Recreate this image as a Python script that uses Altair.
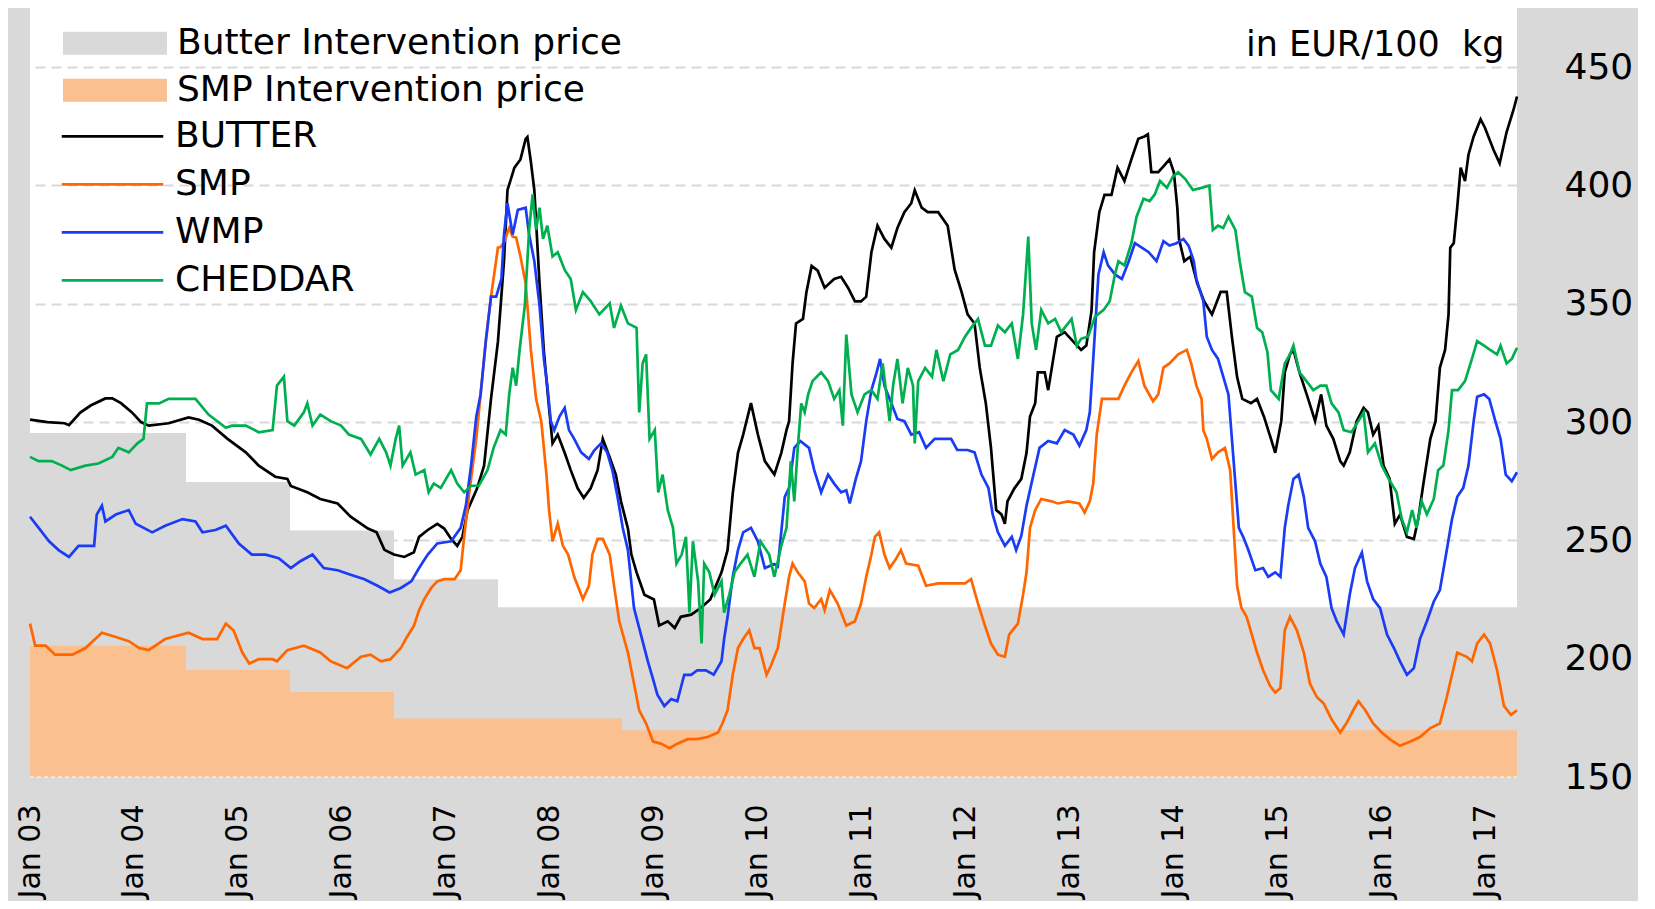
import altair as alt
import pandas as pd

FONT = "DejaVu Sans"

# (months since Jan 2003, EUR/100 kg)
butter = [(0,301),(2,300),(4,299.5),(4.5,298.7),(5.8,304),(7,307),(8.7,310),(9.5,310),(10.5,308),(11.8,304),(12.8,300),(13.7,298.5),(16,299.5),(18.3,302),(19.5,301),(21,298.5),(22.8,292.9),(24.9,287.2),(26.4,281.6),(28.3,276.9),(29.7,276),(30.1,273),(32,270.3),(33.5,267.5),(35.5,265.6),(37,260),(39,255),(40,253.4),(40.9,246),(42,244),(43.2,243),(44.3,245),(44.9,251.5),(45.9,254.4),(47,257),(47.8,255),(48.6,250.6),(49.3,247.7),(49.9,251.5),(50.5,262.8),(51.6,272),(52.4,281.6),(53.2,309.8),(54,334),(54.7,368),(55.1,398),(55.9,407.5),(56.6,411),(57.2,419.7),(57.4,420.5),(57.8,410),(58.2,398),(58.8,358.6),(59.3,330),(59.9,306),(60.3,291),(60.9,294.7),(61.7,287),(62.4,279.7),(63.2,272),(63.9,268),(64.7,272),(65.5,279.7),(66.1,292.9),(66.9,285),(67.6,277.8),(68.2,266.5),(69,255),(69.4,244),(70,236.5),(70.9,227),(72,225),(72.6,214),(73.6,215.8),(74.4,213),(75.1,217.7),(76.3,218.6),(77.4,221.4),(78.5,225),(79.8,236.5),(80.5,245.9),(81.1,270),(81.7,287),(82.3,294.7),(83.2,308),(84,294.7),(84.8,283.5),(85.9,277.8),(86.7,287),(87.3,296.6),(87.6,300.4),(88,324.8),(88.4,341.7),(89.2,343.6),(89.6,354.9),(90.2,366),(90.9,364),(91.7,356.8),(92.8,360.5),(93.6,361.4),(94.4,356.8),(95.2,351),(95.9,351),(96.5,353),(97.1,371.8),(97.8,383),(98.6,377.4),(99.4,373.7),(100.1,382),(100.9,388.7),(101.7,392.5),(102.1,398),(102.9,390.6),(103.6,388.7),(104.8,388.7),(105.9,383),(106.7,364.5),(107.5,355),(108.2,345.5),(109,341.7),(109.6,323),(110.3,308),(110.9,289),(111.5,262.8),(112.1,261),(112.5,257),(112.8,266.5),(113.6,272),(114.4,276),(115,287),(115.4,302.3),(116,308),(116.3,321),(117.1,321),(117.5,313.5),(118,324.8),(118.5,336),(119.4,338),(120.4,334),(121.3,330.5),(121.9,332.3),(122.5,347),(122.8,371.8),(123.4,388.7),(124,396),(124.8,396),(125.5,407.5),(126.3,401.9),(127.1,411),(127.9,419.7),(128.6,420.7),(129,421.6),(129.4,405.6),(130.2,405.6),(130.9,408.5),(131.5,411),(132,405.6),(132.4,390.6),(132.6,377.4),(133.2,368),(133.9,369.9),(134.7,358.6),(135.5,351),(136.4,345.5),(137.4,355),(138.1,355),(138.7,336),(139.3,319),(139.9,309.8),(140.9,308),(141.6,309.8),(142.4,302.3),(143.2,293),(143.7,287),(144.4,300.4),(144.8,321),(145.4,328.6),(145.8,330.5),(146.5,321),(147.5,309.8),(148.3,300.4),(149,311.7),(149.6,298.5),(150.4,292.9),(151.2,283.5),(151.6,281.6),(152.3,287.2),(153.1,300.4),(153.9,306),(154.4,304.1),(155,294.7),(155.6,298.5),(156.2,281.6),(156.9,276),(157.5,257),(158.1,260.9),(158.9,251.5),(159.7,250.6),(160.2,259),(160.8,274),(161.6,292.9),(162.2,300.4),(162.7,323),(163.3,330.5),(163.7,345.5),(163.9,373.7),(164.3,375.6),(164.7,390.6),(165.1,407.5),(165.6,401.9),(166,413),(166.6,420.7),(167.4,428),(167.9,424.4),(168.9,415),(169.6,409.4),(170.4,422.6),(171.2,432),(171.6,437.6)]

smp = [(0,214.8),(0.6,205.5),(1.8,205.5),(2.9,201.7),(4.9,201.7),(6.4,204.5),(8.3,211),(9.9,209.2),(11.4,207.4),(12.6,204.5),(13.7,203.6),(15.6,208.3),(18.3,211),(19.9,208.3),(21.6,208.3),(22.6,214.8),(23.5,211.9),(24.5,202.6),(25.3,198),(26.4,199.8),(28,199.8),(28.5,198.9),(29.7,203.6),(31.6,205.5),(33.5,202.6),(34.7,198.9),(36.6,196),(38.2,200.8),(39.3,201.7),(40.5,198.9),(41.6,199.8),(42.8,204.5),(43.5,209.2),(44.3,213.9),(44.9,220.5),(45.5,225.2),(46.3,229.9),(47,232.7),(47.8,233.6),(49,233.6),(49.7,237.4),(50.1,251.5),(50.7,270.3),(51.5,292.9),(52,311.7),(52.6,334.2),(53.2,353),(54,373.7),(54.3,374),(54.7,376),(55.3,382),(55.7,378.4),(56.1,378),(56.6,370),(57.2,358.6),(57.8,330.5),(58.4,309.8),(59,300.4),(59.6,277.8),(59.9,262.8),(60.3,249.6),(60.9,257.1),(61.5,247.7),(62.1,244),(62.8,234.6),(63.8,225.2),(64.5,230.8),(64.9,244),(65.5,250.6),(66.1,250.6),(66.9,244),(67.4,230.8),(68,215.8),(69,202.6),(69.7,189.5),(70.3,178.2),(71.1,172.6),(71.9,165),(72.8,164.1),(73.8,162.2),(74.7,164.1),(75.9,166),(77,166),(78.2,166.9),(79.4,168.8),(79.9,172.6),(80.5,178.2),(81.1,193.2),(81.7,204.5),(82.3,208.3),(83,212),(83.6,204.5),(84.2,204.5),(85,193.2),(85.5,197),(86.3,204.5),(87.1,223.3),(87.6,234.6),(88,240.2),(88.6,236.5),(89.4,232.7),(89.9,223.3),(90.5,221.4),(91.3,225.2),(91.7,220.5),(92.3,229),(93.2,223.3),(94.2,214),(95.2,215.8),(95.9,223.3),(96.5,234.6),(97.1,244),(97.5,251.5),(98,253.4),(98.6,244),(99.2,238.3),(99.9,242),(100.5,245.9),(101.1,240.2),(102.5,239.3),(103.4,230.8),(104.8,231.8),(106.3,231.8),(107.9,231.8),(108.6,233.6),(109.4,223.3),(110.2,214),(110.9,206.4),(111.7,201.7),(112.5,200.8),(113,210.2),(114,214.8),(114.6,227),(115,236.5),(115.4,255.3),(116,262.8),(116.7,267.5),(117.9,266.5),(118.6,265.6),(119.8,266.5),(121.1,265.6),(121.7,261.8),(122.3,266.5),(122.7,274),(123.1,294.7),(123.7,309.8),(124.4,309.8),(125.6,309.8),(126.3,315.4),(127.1,321),(127.9,325.8),(128.6,315.4),(129.6,308.8),(130.2,311.7),(130.8,323),(131.5,324.8),(132.5,328.6),(133.5,330.5),(134,324.8),(134.6,315.4),(135.2,309.8),(135.4,296.6),(135.8,292.9),(136.4,284.4),(137.1,287.2),(137.9,289.1),(138.5,279.7),(138.9,255.3),(139.3,230.8),(139.8,221.4),(140.4,217.7),(141,210.2),(141.6,202.6),(142.3,195.1),(143.1,188.5),(143.7,185.7),(144.3,187.6),(144.8,212),(145.4,217.7),(146.2,212),(147,202.6),(147.7,189.5),(148.5,183.8),(149.3,181),(150.2,174.4),(151.2,168.8),(151.9,172.6),(152.7,178.2),(153.3,182),(154.1,178.2),(155,172.6),(156,168.8),(156.9,166),(158.1,163.2),(159.3,165),(160.4,166.9),(161.6,170.7),(162.7,172.6),(163.5,183.8),(164.1,193.2),(164.7,202.6),(165.8,200.8),(166.4,198.9),(167,206.4),(167.8,210.2),(168.5,206.4),(169.3,195.1),(170.1,180),(170.9,176.3),(171.6,178.2)]

wmp = [(0,260),(1,255.3),(2.2,249.6),(3.3,245.9),(4.5,243),(5.6,247.7),(7.4,247.7),(7.7,260.9),(8.3,264.7),(8.7,258),(9.9,260.9),(11.4,262.8),(12.2,257),(14.1,253.4),(15.6,256.2),(17.6,259),(19.1,258),(19.9,253.4),(21.4,254.4),(22.6,256.2),(24.1,248.7),(25.6,244),(27.2,244),(28.7,242.5),(30.1,238.3),(31.2,241.2),(32.6,244),(33.9,238.3),(35.5,237.4),(37,235.5),(38.6,233.6),(40.1,230.8),(41.5,228),(42.8,229.9),(44,232.7),(44.9,238.3),(45.9,244),(47,248.7),(48.6,249.6),(49.7,255.3),(50.3,264.7),(50.9,281.6),(51.5,302.3),(52,311.7),(52.6,334.2),(53.2,353),(53.8,353),(54.4,360.5),(54.7,379.3),(55.1,392.5),(55.7,379.3),(56.3,389.7),(57.2,390.6),(57.6,379.3),(58.2,368),(58.8,349.2),(59.3,326.7),(59.7,315.4),(60.1,300.4),(60.5,296.6),(61.1,302.3),(61.7,306),(62.2,296.6),(62.8,292.9),(63.6,287.2),(64.5,284.4),(65.1,288),(65.9,291),(66.6,287.2),(67.2,279.7),(67.8,268.4),(68.4,255.3),(69,245.9),(69.7,221.4),(70.5,210.2),(71.3,198.9),(71.9,191.4),(72.4,184.8),(73.2,180),(74,182.9),(74.7,182),(75.5,193.2),(76.3,193.2),(77,195.1),(78,195.1),(78.9,193.2),(79.8,198.9),(80.1,208.3),(80.5,217.7),(81.1,234.6),(81.7,245.9),(82.3,253.4),(83.2,255.3),(84,249.6),(84.8,238.3),(85.9,240),(86.3,239),(87.1,268.4),(87.6,272.2),(88.2,289.1),(88.9,292),(89.9,289.1),(90.5,279.7),(91.3,270.3),(92.1,277.8),(92.8,274),(93.6,270.3),(94.2,271.2),(94.6,265.6),(95.3,276),(95.9,283.5),(96.5,300.4),(97.1,313.5),(97.7,321),(98.1,326.7),(98.6,315.4),(99.4,308),(100.1,301.3),(100.9,300.4),(101.7,294.7),(102.6,295.7),(103.4,289.1),(104.4,292.9),(105.5,292.9),(106.3,292.9),(107,288.2),(108.2,288.2),(109,287.2),(109.8,277.8),(110.6,272.2),(111.1,260.9),(111.7,253.4),(112.5,247.7),(113.3,251.5),(113.8,245.9),(114.4,252),(115,264.7),(115.8,277.8),(116.5,289.1),(117.5,292),(118.5,291),(119.4,296.6),(120.4,294.7),(121.1,290),(121.9,296.6),(122.3,304.1),(122.7,326.7),(123.3,362.4),(123.9,371.8),(124.4,366.2),(125.2,362.4),(126,360.5),(126.8,368),(127.5,375.6),(128.3,373.7),(129.1,371.8),(130,368),(130.8,376.5),(131.5,374.6),(132.3,375.6),(133.1,377.4),(133.7,374.6),(134.3,368),(134.6,360.5),(135.4,351.1),(135.8,336.1),(136.4,330.5),(137.1,326.7),(137.7,319.2),(138.3,311.7),(138.9,283.5),(139.5,255.3),(140,251.5),(140.6,245.9),(141.4,237.4),(142.3,238.3),(142.9,234.6),(143.7,236.5),(144.3,234.6),(144.8,255.3),(145.2,264.7),(145.8,276),(146.4,277.8),(147,268.4),(147.5,255.3),(148.3,249.6),(148.9,240.2),(149.6,234.6),(150.2,221.4),(150.8,215.8),(151.6,210.2),(152.3,227.1),(152.9,238.3),(153.7,244.9),(154.3,232.7),(155,225.2),(155.8,221.4),(156.6,210.2),(157.4,204.5),(158.1,198.9),(158.9,193.2),(159.7,196),(160.4,208.3),(161.2,215.8),(162,224.2),(162.7,229),(163.5,245.9),(164.1,259),(164.7,268.4),(165.4,272.2),(166,281.6),(166.6,300.4),(167,310.7),(167.8,311.7),(168.4,309.8),(169.1,300.4),(169.7,292.9),(170.3,277.8),(171,275),(171.6,278.8)]

cheddar = [(0,285.3),(1,283.5),(2.5,283.5),(3.7,281.6),(4.7,279.7),(6.4,281.6),(7.9,282.5),(9.5,285.3),(10.2,289.1),(11.4,287.2),(12.4,291),(13.1,292.9),(13.5,307.9),(14.9,307.9),(16,309.8),(17.6,309.8),(19.1,309.8),(20.6,303.2),(22.6,297.6),(23.3,298.5),(24.9,298.5),(26.4,295.7),(28,296.6),(28.5,315.4),(29.3,319.2),(29.7,300.4),(30.5,298.5),(31.6,304.1),(32,307.9),(32.6,298.5),(33.5,303.2),(34.7,300.4),(35.9,298.5),(36.8,294.7),(38.2,292.9),(39.3,286.3),(40.3,292.9),(41.1,287.2),(41.6,281.6),(42.2,292.9),(42.6,298.5),(43,281.6),(43.9,287.2),(44.5,277.8),(45.5,279.7),(46,270.3),(46.6,274),(47.4,272.2),(48.6,279.7),(49.3,274),(50.1,270.3),(50.9,273.1),(51.8,273.1),(52.8,279.7),(53.5,289.1),(54.3,296.6),(54.9,294.7),(55.3,311.7),(55.7,323),(56.1,315.4),(56.5,330.5),(57.1,349.2),(57.6,381.2),(58,396.2),(58.4,381.2),(58.8,390.6),(59.2,377.4),(59.7,383),(60.3,370),(60.9,371.8),(61.7,364.3),(62.4,360.5),(63,347.4),(63.8,354.9),(64.7,351.1),(65.7,345.5),(66.9,350.2),(67.4,339.8),(68.2,349.2),(69,341.7),(70,339.8),(70.3,304.1),(70.7,324.8),(71.1,328.6),(71.5,292.9),(72.1,296.6),(72.5,270.3),(73,277.8),(73.6,262.8),(74.2,255.3),(74.6,240.2),(75.2,244),(75.7,251.5),(76.1,219.5),(76.5,249.6),(77.1,232.7),(77.5,206.4),(77.8,240.2),(78.4,236.5),(79,227.1),(79.8,232.7),(80.1,219.5),(80.7,227.1),(81.3,236.5),(82,240.2),(82.8,244),(83.6,234.6),(84.3,249.6),(85.3,244),(85.9,234.6),(86.7,247.7),(87.3,255.3),(87.8,283.5),(88.2,266.5),(88.6,289.1),(89,307.9),(89.4,304.1),(89.8,311.7),(90.3,317.3),(91.3,321),(92.1,317.3),(92.8,309.8),(93.4,313.5),(93.8,298.5),(94.2,337),(94.8,311.7),(95.5,304.1),(96.3,311.7),(97.1,313.5),(97.8,309.8),(98.4,324.8),(99.2,300.4),(99.6,315.4),(100.1,326.7),(100.7,307.9),(101.3,322.9),(101.9,315.4),(102.1,291),(102.5,317.3),(103.3,322.9),(104.1,319.2),(104.6,330.5),(105.4,317.3),(106.2,328.6),(107.1,330.5),(107.9,336.1),(108.6,339.8),(109.4,343.6),(110.2,332.3),(110.9,332.3),(111.7,340.8),(112.5,338),(113.3,341.7),(114,326.7),(114.6,345.5),(115.2,378.4),(115.6,341.7),(116.1,330.5),(116.7,347.4),(117.5,341.7),(118.3,343.6),(119,338),(119.8,341.7),(120.2,343.6),(120.8,332.3),(121.3,335.2),(122.1,336.1),(122.9,344.5),(123.9,347.4),(124.6,351.1),(125.2,362.4),(125.6,368),(126.3,366.2),(127.1,375.6),(127.7,386.8),(128.5,394.4),(129.2,393.4),(129.8,396.2),(130.4,401.9),(131.2,399),(131.9,403.8),(132.5,405.6),(133.3,402.8),(134.2,398.1),(135.2,399),(136.1,400),(136.5,381.2),(137.1,383),(137.7,382),(138.3,386.8),(139.1,381.2),(139.6,368),(140.2,354.9),(141,353),(141.6,339.8),(142.2,338),(142.8,329.5),(143.2,313.5),(144.1,309.8),(144.8,324.8),(145.4,328.6),(145.8,332.3),(146.5,321),(147.3,317.3),(148.1,313.5),(148.9,315.4),(149.6,315.4),(150.2,307.9),(151,304.1),(151.6,296.6),(152.5,295.7),(153.3,300.4),(153.9,304.1),(154.4,287.2),(155.2,291),(156,281.6),(156.8,276),(157.7,270.3),(158.3,259),(158.9,253.4),(159.5,262.8),(160,255.3),(160.6,266.5),(161.2,261),(162,267.5),(162.5,279.7),(163.1,281.6),(163.7,296.6),(164.1,313.5),(164.8,313.5),(165.6,317.3),(166.4,326.7),(167,334.2),(167.8,332.3),(168.5,330.5),(169.3,328.6),(169.7,332.3),(170.4,324.8),(171,326.7),(171.6,331.4)]

# intervention prices (step changes), months since Jan 2003
END_M = 171.6
butter_int = [(0,295.38),(18,274.71),(30,254.2),(42,233.57),(54,221.75),(END_M,221.75)]
smp_int = [(0,205.52),(18,195.24),(30,185.88),(42,174.69),(68.3,169.8),(END_M,169.8)]

line_names = ["BUTTER", "SMP", "WMP", "CHEDDAR"]
line_colors = ["#000000", "#ff6600", "#1a3cf5", "#00b050"]
area_names = ["Butter Intervention price", "SMP Intervention price"]
area_colors = ["#d9d9d9", "#fac090"]
year_ticks = list(range(2003, 2018))
y_ticks = [150, 200, 250, 300, 350, 400, 450]
unit_text = "in EUR/100\u00a0 kg"


def frame(pairs, name):
    return pd.DataFrame({"year": [2003 + m / 12 for m, _ in pairs],
                         "value": [v for _, v in pairs],
                         "series": name})


lines_df = pd.concat([frame(butter, "BUTTER"), frame(smp, "SMP"),
                      frame(wmp, "WMP"), frame(cheddar, "CHEDDAR")], ignore_index=True)
areas_df = pd.concat([frame(butter_int, area_names[0]), frame(smp_int, area_names[1])],
                     ignore_index=True)
border_df = pd.DataFrame({"year": [2003], "year2": [2003 + END_M / 12], "value": [150]})

X = alt.X("year:Q",
          scale=alt.Scale(domain=[2003, 2003 + END_M / 12], nice=False, zero=False),
          axis=alt.Axis(values=year_ticks, grid=False, domain=False, ticks=False,
                        labelExpr="'Jan ' + substring(toString(datum.value), 2, 4)",
                        labelAngle=270, labelAlign="right", labelBaseline="middle",
                        labelPadding=27, labelFont=FONT, labelFontSize=30,
                        labelColor="black", title=None, labelOverlap=False))
Y = alt.Y("value:Q", stack=None,
          scale=alt.Scale(domain=[150, 475], nice=False, zero=False),
          axis=alt.Axis(orient="right", values=y_ticks, grid=True, gridColor="#d9d9d9",
                        gridDash=[10, 6], gridWidth=2, domain=False, ticks=False,
                        labelPadding=47, labelFont=FONT, labelFontSize=36,
                        labelColor="black", labelAlign="left",
                        title=unit_text, titleAngle=0, titleAlign="right",
                        titleBaseline="alphabetic", titleX=-13, titleY=47,
                        titleFont=FONT, titleFontSize=35, titleFontWeight="normal",
                        titleColor="black"))

fill_enc = alt.Fill("series:N",
                    scale=alt.Scale(domain=area_names, range=area_colors),
                    legend=alt.Legend(title=None, orient="none", legendX=33, legendY=12,
                                      symbolType="M-1,-0.22H1V0.22H-1Z", symbolSize=10816,
                                      symbolStrokeWidth=0, symbolOpacity=1,
                                      labelFont=FONT, labelFontSize=36, labelColor="black",
                                      labelOffset=10, labelLimit=900, clipHeight=46.5,
                                      rowPadding=0, padding=0))
stroke_enc = alt.Stroke("series:N",
                        scale=alt.Scale(domain=line_names, range=line_colors),
                        legend=alt.Legend(title=None, orient="none", legendX=30, legendY=104.5,
                                          symbolType="stroke", symbolSize=10300,
                                          symbolStrokeWidth=2.7,
                                          labelFont=FONT, labelFontSize=36, labelColor="black",
                                          labelOffset=10, labelLimit=900, clipHeight=47.7,
                                          rowPadding=0, padding=0))

layers = []
for name in area_names:
    layers.append(alt.Chart(areas_df).transform_filter(alt.datum.series == name)
                  .mark_area(interpolate="step-after", opacity=1)
                  .encode(x=X, y=Y, y2=alt.datum(150), fill=fill_enc))

layers.append(alt.Chart(border_df).mark_rule(color="white", strokeDash=[4, 3], strokeWidth=1)
              .encode(x=X, x2="year2:Q", y=Y))

for name in line_names:
    layers.append(alt.Chart(lines_df).transform_filter(alt.datum.series == name)
                  .mark_line(strokeWidth=2.7, interpolate="linear")
                  .encode(x=X, y=Y, stroke=stroke_enc, order="year:Q"))

chart = (alt.layer(*layers)
         .properties(width=1487, height=769,
                     autosize=alt.AutoSizeParams(type="none"),
                     padding={"left": 22, "top": 0, "right": 121, "bottom": 124},
                     background="#d9d9d9")
         .configure_view(fill="white", strokeWidth=0))

chart.save("out.html", embed_options={"renderer": "svg", "actions": False})
